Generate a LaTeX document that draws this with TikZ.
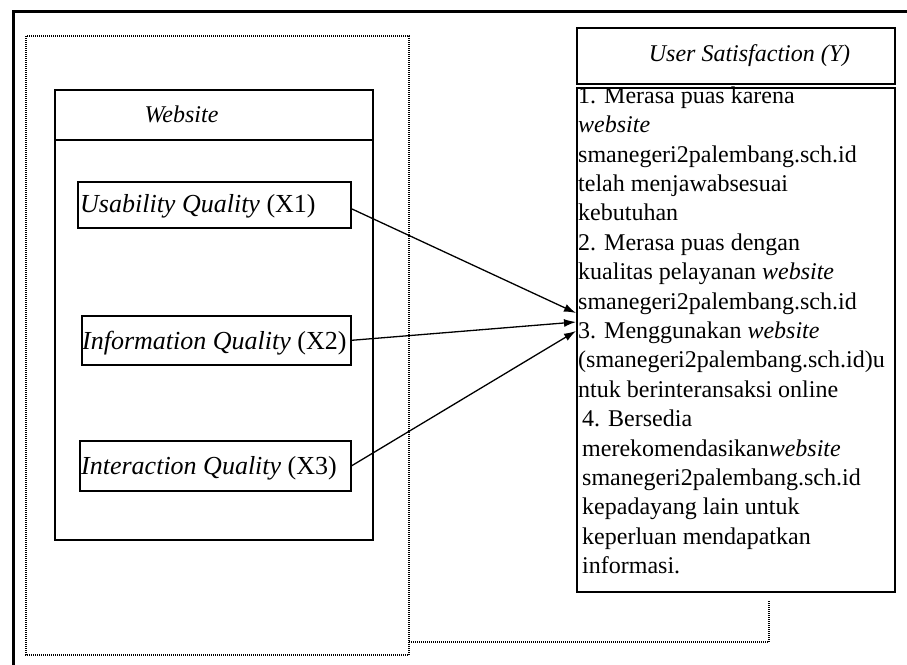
\documentclass[tikz,border=0pt]{standalone}
\usepackage{fontspec}
\setmainfont{Liberation Serif}
\usetikzlibrary{arrows.meta}
\begin{document}
\begin{tikzpicture}[x=1pt,y=-1pt,
  frame/.style={line width=3pt},
  dots/.style={line width=1.2pt, dash pattern=on 1pt off 1pt},
  panel/.style={draw, line width=1.8pt, inner sep=0pt, anchor=north west},
  varbox/.style={draw, line width=1.6pt, inner sep=0pt, anchor=north west},
  sepline/.style={line width=1.8pt},
  headtext/.style={inner sep=0pt, anchor=base, font=\fontsize{24}{28}\selectfont},
  vartext/.style={inner sep=0pt, anchor=base west, font=\fontsize{26}{30}\selectfont},
  bodytext/.style={inner sep=0pt, anchor=north west, align=left, font=\fontsize{24}{29.4}\selectfont},
  link/.style={line width=1.3pt, -{Latex[length=12pt,width=8pt]}}
]
\useasboundingbox (0,0) rectangle (907,664);

% outer frame: only its top and left sides lie on the page
\draw[frame] (13,700) -- (13,11) -- (950,11);

% dotted frame around the website block, with its tail to the right
\draw[dots] (26,36) rectangle (409,655);
\draw[dots] (409,642) -| (769,600);

% website block
\node[panel, minimum width=318pt, minimum height=450pt] (web) at (54,89) {};
\draw[sepline] (54,140) -- (372,140);
\node[headtext] (webtitle) at (181.5,122) {\textit{Website}};

% independent variables
\node[varbox, minimum width=273pt, minimum height=46pt] (x1) at (77,181) {};
\node[vartext] (x1t) at (80,212) {\textit{Usability Quality} (X1)};
\node[varbox, minimum width=269pt, minimum height=49pt] (x2) at (81,315) {};
\node[vartext] (x2t) at (82,349) {\textit{Information Quality} (X2)};
\node[varbox, minimum width=271pt, minimum height=50pt] (x3) at (79,440) {};
\node[vartext] (x3t) at (81,474) {\textit{Interaction Quality} (X3)};

% dependent variable
\node[panel, minimum width=318pt, minimum height=56pt] (yhead) at (576,27) {};
\node[headtext] (ytitle) at (749.5,61) {\textit{User Satisfaction (Y)}};
\node[panel, minimum width=318pt, minimum height=504pt] (ybody) at (576,87) {};

\node[bodytext] (ylist1) at (578,83) {\rule{0pt}{20pt}1. Merasa puas karena\\
\textit{website}\\
smanegeri2palembang.sch.id\\
telah menjawabsesuai\\
kebutuhan\\
2. Merasa puas dengan\\
kualitas pelayanan \textit{website}\\
smanegeri2palembang.sch.id\\
3. Menggunakan \textit{website}\\
(smanegeri2palembang.sch.id)u\\
ntuk berinteransaksi online};
\node[bodytext] (ylist2) at (582,406.4) {\rule{0pt}{20pt}4. Bersedia\\
merekomendasikan\textit{website}\\
smanegeri2palembang.sch.id\\
kepadayang lain untuk\\
keperluan mendapatkan\\
informasi.};

% arrow targets on the left side of the list box
\coordinate (t1) at (576,313);
\coordinate (t2) at (576,322);
\coordinate (t3) at (576,331);

\draw[link] ([yshift=-4pt]x1.east) -- (t1);
\draw[link] (x2.east) -- (t2);
\draw[link] (x3.east) -- (t3);
\end{tikzpicture}
\end{document}
